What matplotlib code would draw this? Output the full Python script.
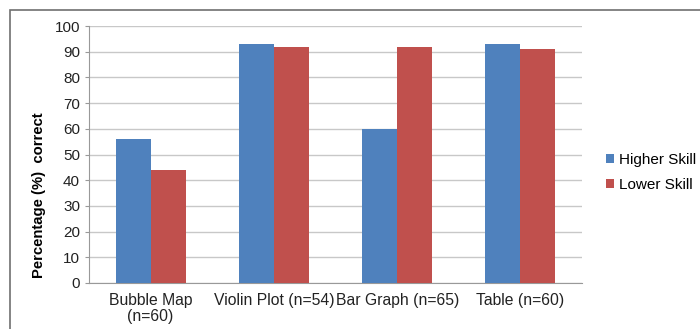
import matplotlib

matplotlib.use("Agg")
import matplotlib.pyplot as plt
import numpy as np
from matplotlib.patches import Rectangle

plt.rcParams["font.family"] = ["Liberation Sans", "DejaVu Sans"]

categories = ["Bubble Map\n(n=60)", "Violin Plot (n=54)", "Bar Graph (n=65)", "Table (n=60)"]
higher_skill = [56, 93, 60, 93]
lower_skill = [44, 92, 92, 91]
series_names = ["Higher Skill", "Lower Skill"]
colors = ["#4F81BD", "#C0504D"]

fig = plt.figure(figsize=(7.0, 3.29), dpi=100)
ax = fig.add_axes([89 / 700, 1 - 283 / 329, (582 - 89) / 700, (283 - 26) / 329])

# outer chart border (right and bottom fall off the image)
fig.patches.append(
    Rectangle((10 / 700, -0.05), 1.2, 1 - 9.5 / 329 + 0.05, transform=fig.transFigure,
              fill=False, edgecolor="#707070", linewidth=1.2)
)

x = np.arange(len(categories))
width = 0.284
ax.bar(x - width / 2, higher_skill, width, color=colors[0], label=series_names[0], zorder=3)
ax.bar(x + width / 2, lower_skill, width, color=colors[1], label=series_names[1], zorder=3)

ax.set_xlim(-0.5, len(categories) - 0.5)
ax.set_ylim(0, 100)
ax.set_yticks(range(0, 101, 10))
ax.set_xticks(x)
ax.set_xticklabels(categories, fontsize=11.3, color="#222222", linespacing=1.1)
ax.tick_params(axis="y", labelsize=11, colors="#222222", length=3, color="#999999")
ax.tick_params(axis="x", length=0, pad=7)
ax.yaxis.grid(True, color="#c8c8c8", linewidth=1, zorder=0)
ax.set_axisbelow(True)
for side in ("top", "right"):
    ax.spines[side].set_visible(False)
ax.spines["left"].set_color("#999999")
ax.spines["bottom"].set_color("#999999")

ax.set_ylabel("Percentage (%)  correct", fontsize=10.7, fontweight="bold")
ax.yaxis.set_label_coords(-0.087, 0.34)

ax.legend(loc="center left", bbox_to_anchor=(1.02, 0.43), frameon=False, fontsize=11,
          handlelength=0.55, handleheight=0.55, handletextpad=0.3, labelspacing=0.7)

fig.savefig("out.png", dpi=100)
